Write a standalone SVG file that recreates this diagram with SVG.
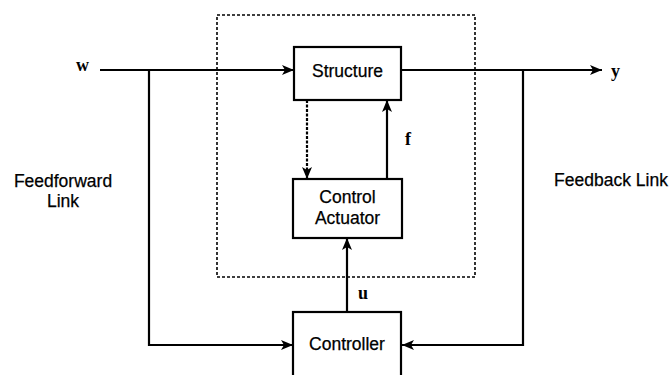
<svg xmlns="http://www.w3.org/2000/svg" width="672" height="375" viewBox="0 0 672 375">
<defs>
<marker id="ah" viewBox="0 0 12 10" refX="12" refY="5" markerWidth="12" markerHeight="10" markerUnits="userSpaceOnUse" orient="auto">
<path d="M0,0 L12,5 L0,10 L3,5 z" fill="#000"/>
</marker>
<style>
.box{fill:#fff;stroke:#000;stroke-width:2.2}
.ln{fill:none;stroke:#000;stroke-width:2.2}
.lbl{font-family:"Liberation Sans",Arial,sans-serif;font-size:17.5px;fill:#000;text-anchor:middle;stroke:#000;stroke-width:0.25}
.var{font-family:"Liberation Serif","Times New Roman",serif;font-size:18px;font-weight:bold;fill:#000}
</style>
</defs>
<rect x="217" y="15" width="258" height="262" fill="none" stroke="#000" stroke-width="1.6" stroke-dasharray="3,2"/>
<g id="connectors">
<path class="ln" d="M100,70 H294" marker-end="url(#ah)"/>
<path class="ln" d="M401,70 H602" marker-end="url(#ah)"/>
<path class="ln" d="M149,70 V345 H293" marker-end="url(#ah)"/>
<path class="ln" d="M523,70 V345 H402" marker-end="url(#ah)"/>
<path class="ln" d="M307,100 V179" stroke-dasharray="3,1.5" marker-end="url(#ah)"/>
<path class="ln" d="M387,179 V100" marker-end="url(#ah)"/>
<path class="ln" d="M347,312 V238" marker-end="url(#ah)"/>
</g>
<g id="structure">
<rect class="box" x="294" y="47" width="107" height="53"/>
<text class="lbl" x="347.5" y="77">Structure</text>
</g>
<g id="actuator">
<rect class="box" x="293" y="179" width="109" height="59"/>
<text class="lbl" x="347.5" y="203">Control</text>
<text class="lbl" x="347.5" y="224">Actuator</text>
</g>
<g id="controller">
<rect class="box" x="293" y="312" width="108" height="70"/>
<text class="lbl" x="347" y="350">Controller</text>
</g>
<text class="var" x="76" y="71">w</text>
<text class="var" x="611" y="77">y</text>
<text class="var" x="405" y="145">f</text>
<text class="var" x="358" y="299">u</text>
<text class="lbl" x="63" y="187">Feedforward</text>
<text class="lbl" x="63" y="207">Link</text>
<text class="lbl" x="611" y="186">Feedback Link</text>
</svg>
